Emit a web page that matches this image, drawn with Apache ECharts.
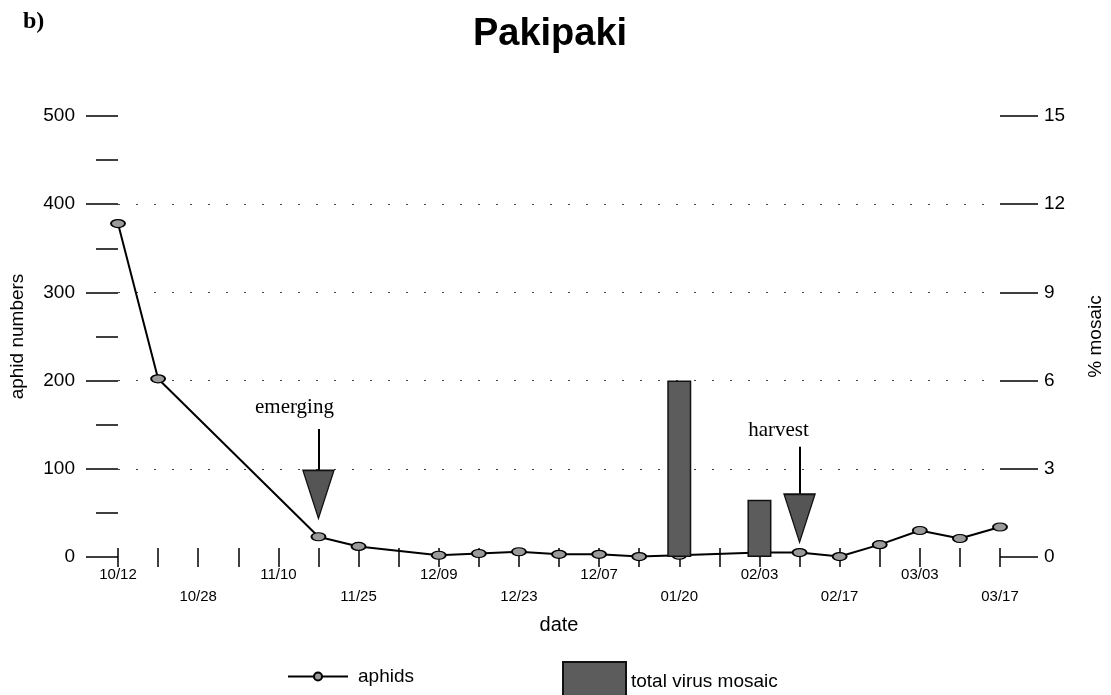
<!DOCTYPE html>
<html>
<head>
<meta charset="utf-8">
<script src="https://cdn.jsdelivr.net/npm/echarts@6/dist/echarts.min.js"></script>
<style>
html,body{margin:0;padding:0;background:#fff;}
#chart{width:1111px;height:695px;}
</style>
</head>
<body>
<div id="chart"></div>
<script>
// x-axis categories (weekly ticks; only every other one labelled)
var categories = ['10/12','','10/28','','11/10','','11/25','','12/09','','12/23','','12/07','','01/20','','02/03','','02/17','','03/03','','03/17'];
// aphid numbers (left axis), null where no sample
var aphids = [378, 202, null, null, null, 23, 12, null, 2, 4, 6, 3, 3, 0.5, 2, null, 5, 5, 0.5, 14, 30, 21, 34];
// total virus mosaic (% , right axis)
var mosaic = [null, null, null, null, null, null, null, null, null, null, null, null, null, null, 6.0, null, 1.95, null, null, null, null, null, null];
// left axis ticks
var leftMin = 0, leftMax = 500, leftStep = 100;
// right axis ticks
var rightMin = 0, rightMax = 15, rightStep = 3;
// annotations: [category index, arrow top, arrow bottom, triangle centre, text value]
var annEmerging = [5, 145, 98, 71, 169];
var annHarvest = [17, 125, 71, 44, 143];

var chart = echarts.init(document.getElementById('chart'), null, {renderer: 'canvas'});
var FONT = 'Liberation Sans, Arial, Helvetica, sans-serif';
var SERIF = 'Liberation Serif, Times New Roman, serif';

function annText(a, txt, dx) {
  return {coord: [a[0], a[4]], value: txt, symbol: 'rect', symbolSize: 1,
    itemStyle: {color: 'rgba(0,0,0,0)'},
    label: {show: true, position: 'inside', formatter: txt, offset: [dx, 0],
      fontFamily: SERIF, fontSize: 21, color: '#000'}};
}
function annTri(a) {
  return {coord: [a[0], a[3]], symbol: 'triangle', symbolSize: [31, 48], symbolRotate: 180,
    itemStyle: {color: '#555', borderColor: '#111', borderWidth: 1.5},
    label: {show: false}};
}

var option = {
  animation: false,
  backgroundColor: '#fff',
  title: [
    {text: 'Pakipaki', left: 545, top: 11, textAlign: 'center',
     textStyle: {fontFamily: FONT, fontSize: 38, fontWeight: 'bold', color: '#000'}},
    {text: 'b)', left: 18, top: 5,
     textStyle: {fontFamily: SERIF, fontSize: 24, fontWeight: 'bold', color: '#000'}}
  ],
  legend: [
    {data: ['aphids'], left: 282, top: 662, itemWidth: 60, itemHeight: 10,
     textStyle: {fontFamily: FONT, fontSize: 19, color: '#000', padding: [0, 0, 0, 5]}},
    {data: ['total virus mosaic'], left: 557, top: 656, itemWidth: 63, itemHeight: 40, icon: 'rect',
     textStyle: {fontFamily: FONT, fontSize: 19, color: '#000'}}
  ],
  grid: {left: 118, right: 111, top: 116, bottom: 138, containLabel: false, outerBoundsMode: 'none'},
  xAxis: [
    {type: 'category', data: categories, boundaryGap: false, position: 'bottom',
     axisLine: {show: false},
     axisTick: {show: true, interval: 0, length: 10, lineStyle: {color: '#000', width: 1.5}},
     axisLabel: {interval: 0, margin: 7, fontFamily: FONT, fontSize: 15, lineHeight: 22, color: '#000',
       formatter: function (v, i) { return (i % 4 === 2) ? '\n' + v : v; }},
     splitLine: {show: false},
     name: 'date', nameLocation: 'middle', nameGap: 58,
     nameTextStyle: {fontFamily: FONT, fontSize: 20, color: '#000'}},
    {type: 'category', data: categories, boundaryGap: false, position: 'bottom', gridIndex: 0,
     axisLine: {show: false},
     axisTick: {show: true, inside: true, interval: 0, length: 9, lineStyle: {color: '#000', width: 1.5}},
     axisLabel: {show: false}, splitLine: {show: false}}
  ],
  yAxis: [
    {type: 'value', min: leftMin, max: leftMax, interval: leftStep, position: 'left',
     axisLine: {show: false},
     axisTick: {show: true, length: 32, lineStyle: {color: '#000', width: 1.5}},
     minorTick: {show: true, splitNumber: 2, length: 22, lineStyle: {color: '#000', width: 1.5}},
     axisLabel: {margin: 43, fontFamily: FONT, fontSize: 19, color: '#000'},
     splitLine: {show: true, showMinLine: false, showMaxLine: false,
       lineStyle: {color: '#444', width: 1, type: [2, 16]}},
     name: 'aphid numbers', nameLocation: 'middle', nameGap: 91, nameRotate: 90,
     nameTextStyle: {fontFamily: FONT, fontSize: 19, color: '#000'}},
    {type: 'value', min: rightMin, max: rightMax, interval: rightStep, position: 'right',
     axisLine: {show: false},
     axisTick: {show: true, length: 38, lineStyle: {color: '#000', width: 1.5}},
     axisLabel: {margin: 44, fontFamily: FONT, fontSize: 19, color: '#000'},
     splitLine: {show: false},
     name: '% mosaic', nameLocation: 'middle', nameGap: 86, nameRotate: 90,
     nameTextStyle: {fontFamily: FONT, fontSize: 19, color: '#000'}}
  ],
  series: [
    {name: 'aphids', type: 'line', xAxisIndex: 0, yAxisIndex: 0, data: aphids,
     connectNulls: true, symbol: 'circle', symbolSize: [14, 8], showSymbol: true,
     lineStyle: {color: '#000', width: 2},
     itemStyle: {color: '#9a9a9a', borderColor: '#000', borderWidth: 1.5},
     z: 2,
     markLine: {silent: true, symbol: ['none', 'none'], label: {show: false},
       lineStyle: {color: '#000', width: 2, type: 'solid'},
       data: [
         [{coord: [annEmerging[0], annEmerging[1]]}, {coord: [annEmerging[0], annEmerging[2]]}],
         [{coord: [annHarvest[0], annHarvest[1]]}, {coord: [annHarvest[0], annHarvest[2]]}]
       ]},
     markPoint: {silent: true, data: [
       annTri(annEmerging), annTri(annHarvest),
       annText(annEmerging, 'emerging', -24), annText(annHarvest, 'harvest', -21)
     ]}},
    {name: 'total virus mosaic', type: 'bar', xAxisIndex: 0, yAxisIndex: 1, data: mosaic,
     barWidth: 24, z: 3,
     itemStyle: {color: '#5c5c5c', borderColor: '#111', borderWidth: 1.5}}
  ]
};
chart.setOption(option);
</script>
</body>
</html>
